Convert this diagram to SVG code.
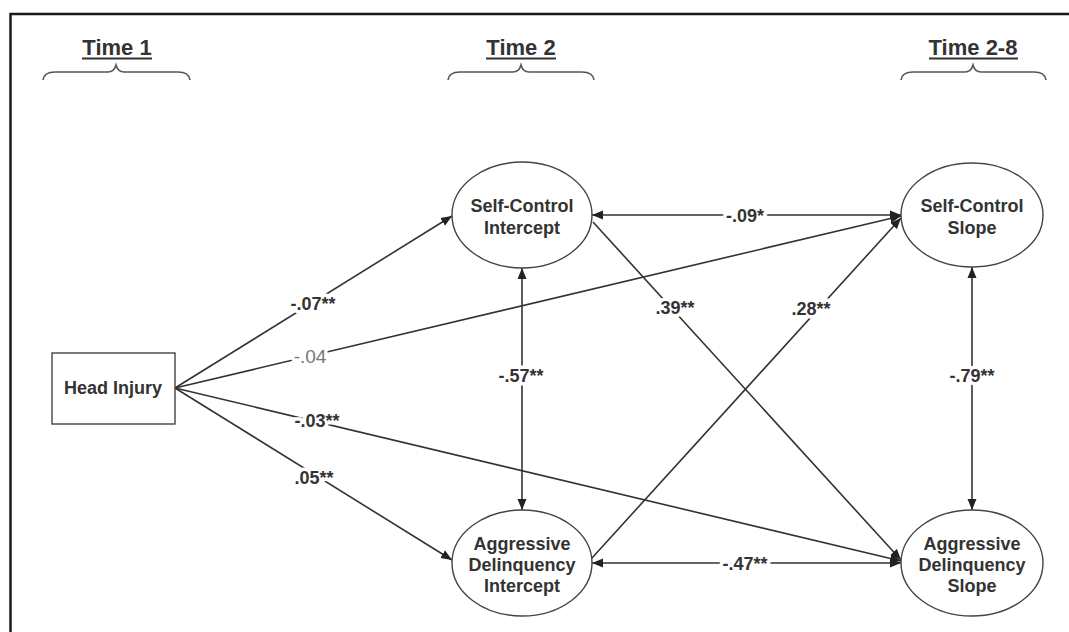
<svg xmlns="http://www.w3.org/2000/svg" width="1069" height="632" viewBox="0 0 1069 632">
<style>
.frame{stroke:#1a1a1a;stroke-width:2.5;fill:none}
.brace{stroke:#555;stroke-width:1.6;fill:none}
.hdr{font-family:"Liberation Sans",Arial,sans-serif;font-weight:bold;font-size:22px;fill:#333;text-anchor:middle}
.uline{stroke:#333;stroke-width:2}
.node{fill:#fff;stroke:#444;stroke-width:1.4}
.nt{font-family:"Liberation Sans",Arial,sans-serif;font-weight:bold;font-size:18px;fill:#333;text-anchor:middle}
.conn{stroke:#333;stroke-width:1.6;fill:none}
.lbl{font-family:"Liberation Sans",Arial,sans-serif;font-weight:bold;font-size:18px;fill:#333;text-anchor:middle;paint-order:stroke;stroke:#fff;stroke-width:7px;stroke-linejoin:round}
.lblg{font-family:"Liberation Sans",Arial,sans-serif;font-size:19px;fill:#777;text-anchor:middle;paint-order:stroke;stroke:#fff;stroke-width:7px;stroke-linejoin:round}
</style>
<defs>
<marker id="ah" markerUnits="userSpaceOnUse" markerWidth="12" markerHeight="10" refX="11" refY="5" orient="auto-start-reverse" viewBox="0 0 12 10">
<path d="M0,0.5 L11,5 L0,9.5 z" fill="#222"/>
</marker>
</defs>
<rect width="1069" height="632" fill="#fff"/>
<g id="frame">
<path class="frame" d="M10.5,632 V14 H1069"/>
</g>
<g id="headers">
<text class="hdr" x="117" y="55">Time 1</text>
<line class="uline" x1="82" y1="58.5" x2="152" y2="58.5"/>
<path class="brace" d="M43,80 Q44,72 55,72 L108,72 Q114,72 116,65 Q118,72 124,72 L178,72 Q189,72 190,80"/>
<text class="hdr" x="521" y="55">Time 2</text>
<line class="uline" x1="486" y1="58.5" x2="556" y2="58.5"/>
<path class="brace" d="M448,80 Q449,72 460,72 L513,72 Q519,72 521,65 Q523,72 529,72 L582,72 Q593,72 594,80"/>
<text class="hdr" x="973" y="55">Time 2-8</text>
<line class="uline" x1="929" y1="58.5" x2="1018" y2="58.5"/>
<path class="brace" d="M901,80 Q902,72 913,72 L965,72 Q971,72 973,65 Q975,72 981,72 L1034,72 Q1045,72 1046,80"/>
</g>
<g id="connectors">
<line class="conn" x1="175" y1="388" x2="452" y2="216" marker-end="url(#ah)"/>
<line class="conn" x1="175" y1="388" x2="901" y2="216" marker-end="url(#ah)"/>
<line class="conn" x1="175" y1="388" x2="901" y2="561" marker-end="url(#ah)"/>
<line class="conn" x1="175" y1="388" x2="452" y2="560" marker-end="url(#ah)"/>
<line class="conn" x1="593" y1="222" x2="901" y2="560" marker-end="url(#ah)"/>
<line class="conn" x1="592" y1="558" x2="901" y2="218" marker-end="url(#ah)"/>
<line class="conn" x1="592" y1="215" x2="901" y2="215" stroke-width="2" marker-start="url(#ah)" marker-end="url(#ah)"/>
<line class="conn" x1="592" y1="563" x2="901" y2="563" stroke-width="2" marker-start="url(#ah)" marker-end="url(#ah)"/>
<line class="conn" x1="522" y1="268" x2="522" y2="510" marker-start="url(#ah)" marker-end="url(#ah)"/>
<line class="conn" x1="972" y1="267" x2="972" y2="510" marker-start="url(#ah)" marker-end="url(#ah)"/>
<text class="lbl" x="313" y="310">-.07**</text>
<text class="lblg" x="310" y="363">-.04</text>
<text class="lbl" x="317" y="427">-.03**</text>
<text class="lbl" x="314" y="484">.05**</text>
<text class="lbl" x="521" y="382">-.57**</text>
<text class="lbl" x="675" y="314">.39**</text>
<text class="lbl" x="811" y="315">.28**</text>
<text class="lbl" x="972" y="382">-.79**</text>
<text class="lbl" x="745" y="222">-.09*</text>
<text class="lbl" x="745" y="570">-.47**</text>
</g>
<g id="head-injury">
<rect class="node" x="52" y="353" width="123" height="71"/>
<text class="nt" x="113" y="394">Head Injury</text>
</g>
<g id="self-control-intercept">
<ellipse class="node" cx="522" cy="215" rx="70" ry="53"/>
<text class="nt" x="522" y="212">Self-Control</text>
<text class="nt" x="522" y="234">Intercept</text>
</g>
<g id="self-control-slope">
<ellipse class="node" cx="972" cy="215" rx="71" ry="52"/>
<text class="nt" x="972" y="212">Self-Control</text>
<text class="nt" x="972" y="234">Slope</text>
</g>
<g id="aggressive-delinquency-intercept">
<ellipse class="node" cx="522" cy="563" rx="70" ry="53"/>
<text class="nt" x="522" y="550">Aggressive</text>
<text class="nt" x="522" y="571">Delinquency</text>
<text class="nt" x="522" y="592">Intercept</text>
</g>
<g id="aggressive-delinquency-slope">
<ellipse class="node" cx="972" cy="563" rx="71" ry="53"/>
<text class="nt" x="972" y="550">Aggressive</text>
<text class="nt" x="972" y="571">Delinquency</text>
<text class="nt" x="972" y="592">Slope</text>
</g>
</svg>
